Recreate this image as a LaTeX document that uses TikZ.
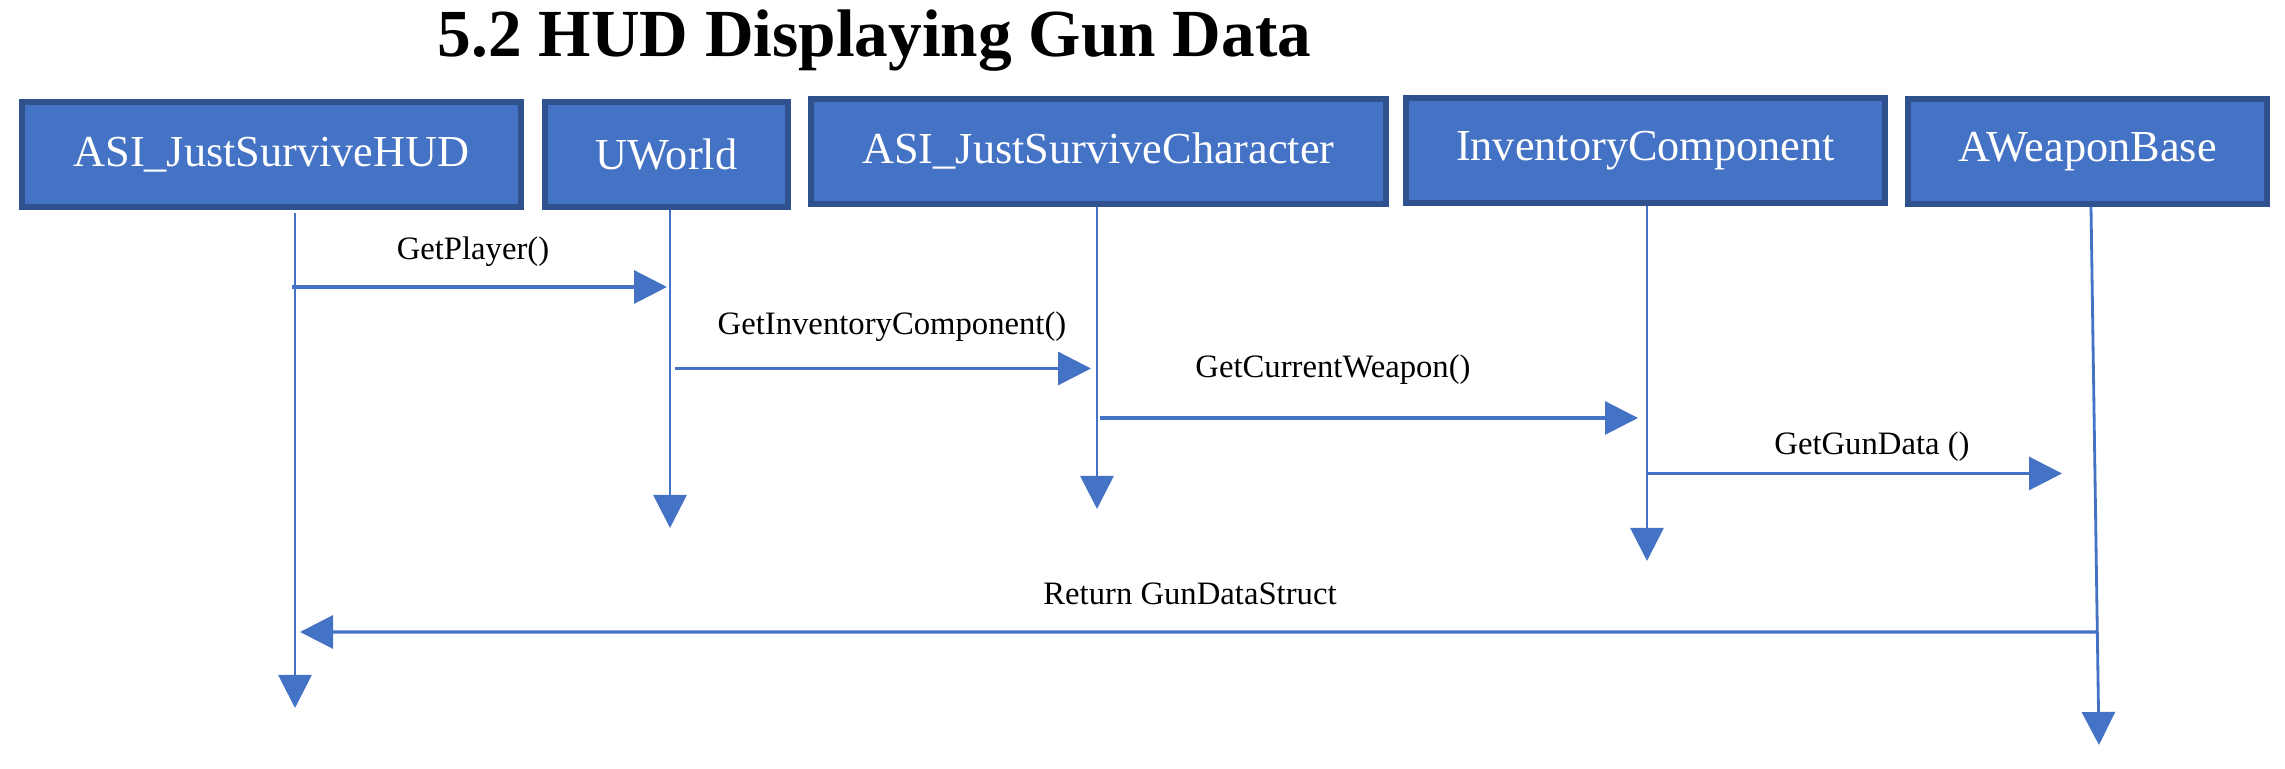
\documentclass[tikz,border=0pt]{standalone}
\usepackage{fontspec}
\setmainfont{Liberation Serif}
\usepackage{xcolor}
\usepackage{tikz}
\usetikzlibrary{arrows.meta,positioning,calc}
\definecolor{classblue}{HTML}{4472C4}
\definecolor{classedge}{HTML}{2F528F}

\begin{document}
\begin{tikzpicture}[
    box/.style={draw=classedge, line width=0.06cm, fill=classblue, text=white, inner sep=0pt, minimum height=1.05cm, font=\fontsize{12.6}{15}\selectfont},
    msglabel/.style={font=\fontsize{9.3}{11}\selectfont, text=black, inner sep=0pt, anchor=base},
    lifeline/.style={draw=classblue, line width=0.8pt, -{Triangle[length=0.33cm, width=0.33cm]}},
    msg/.style={draw=classblue, line width=0.9pt, -{Triangle[length=0.33cm, width=0.33cm]}}
]
    \useasboundingbox (0,0) rectangle (22.85,-7.69);

    % Title
    \node[font=\bfseries\fontsize{19.15}{23}\selectfont, anchor=base, inner sep=0pt] (title) at (8.745,-0.57) {5.2 HUD Displaying Gun Data};

    % Classes
    \node[box, minimum width=4.99cm] (hud) at (2.715,-1.545) {ASI\_JustSurviveHUD};
    \node[box, minimum width=2.43cm] (world) at (6.665,-1.545) {UWorld};
    \node[box, minimum width=5.75cm] (character) at (10.985,-1.515) {ASI\_JustSurviveCharacter};
    \node[box, minimum width=4.79cm] (inventory) at (16.455,-1.505) {InventoryComponent};
    \node[box, minimum width=3.59cm] (weapon) at (20.875,-1.515) {AWeaponBase};

    % Lifelines
    \coordinate (hud_top) at (2.95,-2.13);
    \coordinate (hud_end) at (2.95,-7.08);
    \coordinate (world_top) at (6.70,-2.10);
    \coordinate (world_end) at (6.70,-5.28);
    \coordinate (char_top) at (10.97,-2.07);
    \coordinate (char_end) at (10.97,-5.09);
    \coordinate (inv_top) at (16.47,-2.06);
    \coordinate (inv_end) at (16.47,-5.61);
    \coordinate (weap_top) at (20.91,-2.07);
    \coordinate (weap_end) at (20.99,-7.45);

    \foreach \a/\b in {hud_top/hud_end, world_top/world_end, char_top/char_end, inv_top/inv_end, weap_top/weap_end} {
        \draw[lifeline] (\a) -- (\b);
    }

    % Messages
    \node[msglabel] (l_player) at (4.73,-2.60) {GetPlayer()};
    \draw[msg] ($(hud_top |- 0,-2.87)+(-0.03,0)$) -- ($(world_top |- 0,-2.87)+(-0.03,0)$);

    \node[msglabel] (l_inventory) at (8.92,-3.35) {GetInventoryComponent()};
    \draw[msg] ($(world_top |- 0,-3.685)+(0.05,0)$) -- ($(char_top |- 0,-3.685)+(-0.06,0)$);

    \node[msglabel] (l_weapon) at (13.33,-3.78) {GetCurrentWeapon()};
    \draw[msg] ($(char_top |- 0,-4.18)+(0.03,0)$) -- ($(inv_top |- 0,-4.18)+(-0.09,0)$);

    \node[msglabel] (l_gundata) at (18.72,-4.55) {GetGunData ()};
    \draw[msg] ($(inv_top |- 0,-4.735)+(0.01,0)$) -- ($(weap_top |- 0,-4.735)+(-0.29,0)$);

    % Return
    \node[msglabel] (l_return) at (11.90,-6.05) {Return GunDataStruct};
    \draw[msg] ($(weap_top)!0.79!(weap_end)$) -- ($(hud_top |- 0,-6.32)+(0.05,0)$);

\end{tikzpicture}
\end{document}
